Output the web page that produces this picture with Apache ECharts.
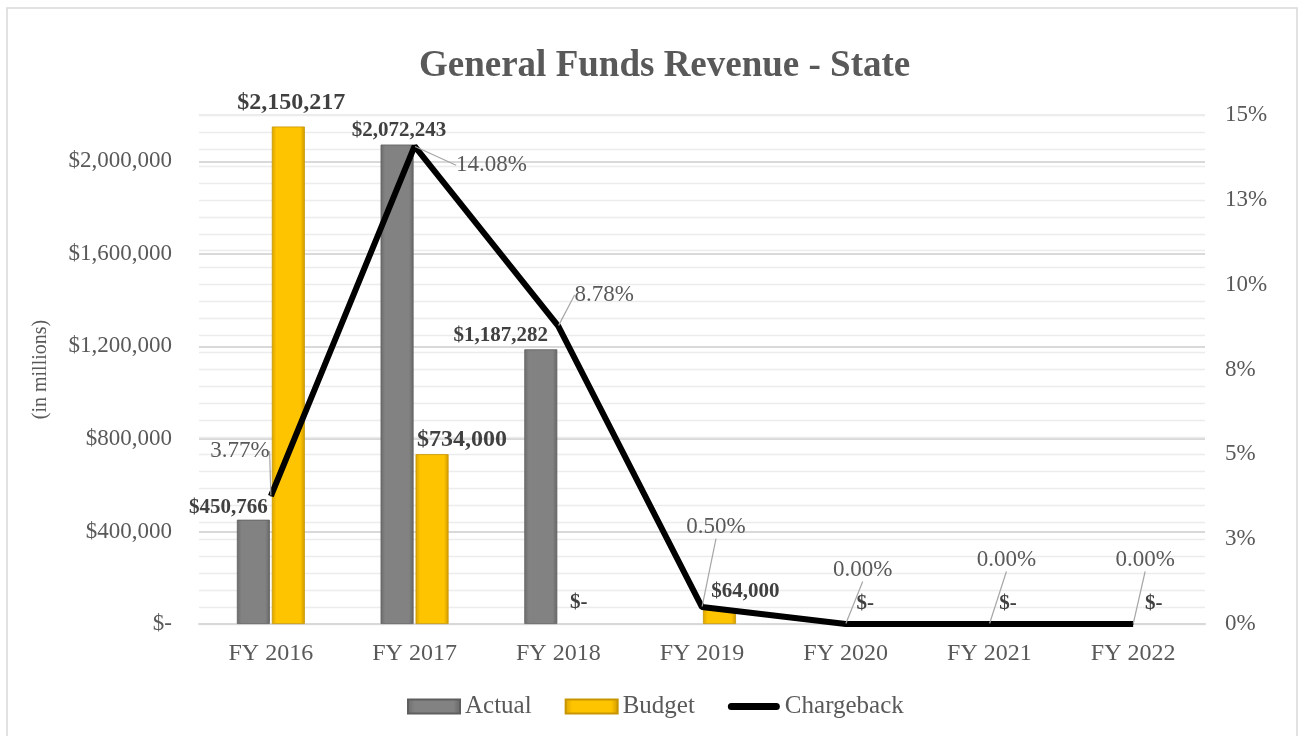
<!DOCTYPE html>
<html>
<head>
<meta charset="utf-8">
<title>General Funds Revenue - State</title>
<script src="https://cdn.jsdelivr.net/npm/echarts@6/dist/echarts.min.js"></script>
<style>
  html, body { margin: 0; padding: 0; background: #ffffff; }
  #chart { width: 1302px; height: 736px; }
</style>
</head>
<body>
<div id="chart"></div>
<script>
// Fiscal years on the category axis
const years = ['FY 2016', 'FY 2017', 'FY 2018', 'FY 2019', 'FY 2020', 'FY 2021', 'FY 2022'];
// Dollar amounts (left axis)
const actual = [450766, 2072243, 1187282, null, null, null, null];
const budget = [2150217, 734000, 0, 64000, 0, 0, 0];
// Chargeback rate in percent (right axis)
const chargeback = [3.77, 14.08, 8.78, 0.50, 0.00, 0.00, 0.00];

const SERIF = "'Liberation Serif', 'Times New Roman', serif";
const TEXT = '#595959';
const LABEL = '#404040';

// Hand-placed label nudges, in pixels
const actualLabelShift = [[-25, 3], [2, 2], [-40, 2]];
const budgetLabelShift = [[3, -7], [30, 3], [3, -6], [26, -2], [2, -5], [1, -5], [3, -5]];
const budgetLabelSize = [24, 24, 21, 21, 21, 21, 21];
const rateLabelShift = [[-31, -28], [77, 36], [46, -14], [14, -63], [17, -37], [17, -47], [12, -47]];

function money(v) {
  return v === 0 ? '$-' : '$' + v.toLocaleString('en-US');
}

function bevel(edge, face, edge2) {
  return new echarts.graphic.LinearGradient(0, 0, 1, 0, [
    { offset: 0, color: edge },
    { offset: 0.14, color: face },
    { offset: 0.86, color: face },
    { offset: 1, color: edge2 }
  ]);
}
const grayFill = bevel('#6c6c6c', '#828282', '#666666');
const goldFill = bevel('#d9a400', '#ffc400', '#cf9a00');

const chart = echarts.init(document.getElementById('chart'), null, { renderer: 'canvas' });

chart.setOption({
  backgroundColor: '#ffffff',
  animation: false,
  title: {
    text: 'General Funds Revenue - State',
    left: 414,
    top: 43,
    textStyle: { fontFamily: SERIF, fontSize: 37, fontWeight: 'bold', color: TEXT }
  },
  graphic: [{
    type: 'rect',
    shape: { x: 7, y: 8, width: 1290, height: 740 },
    style: { fill: 'none', stroke: '#d9d9d9', lineWidth: 1.5 },
    silent: true
  }],
  legend: {
    left: 402,
    top: 689,
    itemWidth: 52,
    itemHeight: 14,
    itemGap: 33,
    textStyle: { fontFamily: SERIF, fontSize: 25, color: TEXT },
    data: [
      { name: 'Actual', icon: 'rect' },
      { name: 'Budget', icon: 'rect' },
      { name: 'Chargeback', icon: 'path://M3.5,0H48.5A3.5,3.5,0,0,1,48.5,7H3.5A3.5,3.5,0,0,1,3.5,0Z' }
    ]
  },
  grid: { left: 199, right: 97, top: 115, bottom: 112, containLabel: false },
  xAxis: {
    type: 'category',
    data: years,
    axisTick: { show: false },
    axisLine: { lineStyle: { color: '#d9d9d9', width: 2 } },
    axisLabel: { fontFamily: SERIF, fontSize: 24, color: TEXT, margin: 18 }
  },
  yAxis: [
    {
      type: 'value',
      min: 0,
      max: 2200000,
      interval: 400000,
      name: '(in millions)',
      nameLocation: 'middle',
      nameGap: 148,
      nameRotate: 90,
      nameTextStyle: { fontFamily: SERIF, fontSize: 20, color: TEXT },
      axisLine: { show: false },
      axisTick: { show: false },
      axisLabel: {
        fontFamily: SERIF, fontSize: 23, color: TEXT, margin: 27,
        formatter: v => (v % 400000 === 0 ? money(v) : '')
      },
      splitLine: {
        lineStyle: {
          color: ['#d9d9d9', '#d9d9d9', '#d9d9d9', '#d9d9d9', '#d9d9d9', '#d9d9d9', '#ececec'],
          width: 2
        }
      }
    },
    {
      type: 'value',
      min: 0,
      max: 15,
      interval: 2.5,
      axisLine: { show: false },
      axisTick: { show: false },
      axisLabel: {
        fontFamily: SERIF, fontSize: 23, color: TEXT, margin: 20,
        formatter: v => Math.round(v) + '%'
      },
      splitLine: { lineStyle: { color: '#ececec', width: 1.3 } },
      minorTick: { show: false, splitNumber: 5 },
      minorSplitLine: { show: true, lineStyle: { color: '#ececec', width: 1.3 } }
    }
  ],
  series: [
    {
      name: 'Actual',
      type: 'bar',
      barWidth: 33,
      barGap: '6%',
      itemStyle: { color: grayFill, borderColor: '#5e5e5e', borderWidth: 0.8 },
      data: actual.map((v, i) => ({
        value: v,
        label: actualLabelShift[i] ? { offset: actualLabelShift[i] } : { show: false }
      })),
      label: {
        show: true,
        position: 'top',
        distance: 5,
        fontFamily: SERIF, fontSize: 21, fontWeight: 'bold', color: LABEL,
        formatter: p => money(p.value)
      }
    },
    {
      name: 'Budget',
      type: 'bar',
      barWidth: 33,
      barGap: '6%',
      itemStyle: { color: goldFill, borderColor: '#c79500', borderWidth: 0.8 },
      data: budget.map((v, i) => ({
        value: v,
        itemStyle: v === 0 ? { borderWidth: 0, borderColor: 'transparent' } : undefined,
        label: { offset: budgetLabelShift[i], fontSize: budgetLabelSize[i] }
      })),
      label: {
        show: true,
        position: 'top',
        distance: 5,
        fontFamily: SERIF, fontSize: 21, fontWeight: 'bold', color: LABEL,
        formatter: p => money(p.value)
      }
    },
    {
      name: 'Chargeback',
      type: 'line',
      yAxisIndex: 1,
      data: chargeback,
      symbol: 'circle',
      symbolSize: 1,
      showSymbol: true,
      itemStyle: { color: '#000000' },
      lineStyle: { color: '#000000', width: 6 },
      label: {
        show: true,
        position: 'top',
        distance: 5,
        fontFamily: SERIF, fontSize: 23, color: TEXT,
        formatter: p => p.value.toFixed(2) + '%'
      },
      labelLine: { show: true, lineStyle: { color: '#a6a6a6', width: 1.2 } },
      labelLayout: p => ({ dx: rateLabelShift[p.dataIndex][0], dy: rateLabelShift[p.dataIndex][1] }),
      z: 5
    }
  ]
});
</script>
</body>
</html>
